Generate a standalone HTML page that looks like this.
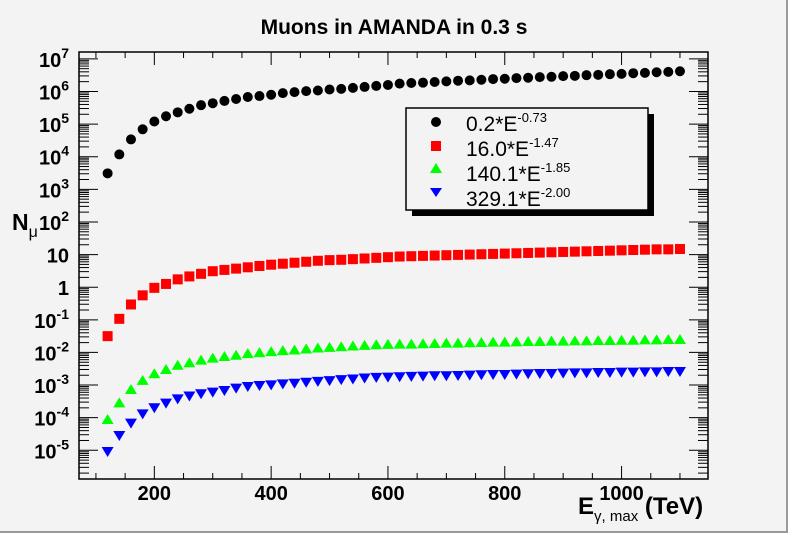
<!DOCTYPE html>
<html><head><meta charset="utf-8"><style>
html,body{margin:0;padding:0;background:#f3f3f3;}
svg{display:block;font-family:"Liberation Sans",sans-serif;}
</style></head><body>
<svg id="c" width="788" height="533" viewBox="0 0 788 533">
<rect x="0" y="0" width="788" height="533" fill="#f3f3f3"/>
<line x1="0" y1="532" x2="788" y2="532" stroke="#999" stroke-width="2"/>
<line x1="787" y1="0" x2="787" y2="533" stroke="#999" stroke-width="2"/>
<text x="394" y="34" text-anchor="middle" font-size="21" font-weight="bold">Muons in AMANDA in 0.3 s</text>
<g id="axes"></g>
<g id="marks"></g>
<g>
<rect x="412" y="114" width="242" height="102" fill="#000"/>
<rect x="406" y="108" width="242" height="102" fill="#f3f3f3" stroke="#000" stroke-width="1.5"/>
<circle cx="436" cy="122" r="5" fill="#000"/>
<rect x="431" y="141" width="10" height="10" fill="#f00"/>
<polygon points="436,163 442,173 430,173" fill="#0f0"/>
<polygon points="436,197 442,188 430,188" fill="#00f"/>
<text x="466" y="131" font-size="21">0.2*E<tspan dy="-9" font-size="13">-0.73</tspan></text>
<text x="466" y="156" font-size="21">16.0*E<tspan dy="-9" font-size="13">-1.47</tspan></text>
<text x="466" y="181" font-size="21">140.1*E<tspan dy="-9" font-size="13">-1.85</tspan></text>
<text x="466" y="206" font-size="21">329.1*E<tspan dy="-9" font-size="13">-2.00</tspan></text>
</g>
<text x="12" y="230" font-size="23" font-weight="bold">N<tspan dy="7" font-size="16" font-weight="normal">μ</tspan></text>
<text x="578" y="514" font-size="24" font-weight="bold">E<tspan dy="7" font-size="15" font-weight="normal">γ, max</tspan><tspan dy="-7"> (TeV)</tspan></text>
</svg>
<script>
const energies = [];
for (let e = 120; e <= 1100; e += 20) energies.push(e);
const logBlack = [3.49,4.07,4.53,4.84,5.08,5.24,5.36,5.47,5.58,5.64,5.71,5.77,5.83,5.86,5.90,5.95,5.98,6.01,6.03,6.06,6.08,6.11,6.14,6.17,6.20,6.24,6.26,6.27,6.29,6.31,6.33,6.34,6.36,6.38,6.39,6.41,6.42,6.44,6.45,6.47,6.48,6.50,6.51,6.53,6.54,6.56,6.57,6.59,6.60,6.62];
const logRed = [-1.50,-0.97,-0.53,-0.25,-0.02,0.10,0.24,0.33,0.41,0.49,0.53,0.57,0.61,0.65,0.69,0.72,0.75,0.78,0.81,0.83,0.84,0.86,0.88,0.90,0.92,0.94,0.95,0.96,0.97,0.98,0.99,1.00,1.01,1.02,1.03,1.04,1.05,1.06,1.07,1.08,1.09,1.10,1.11,1.12,1.13,1.14,1.15,1.16,1.16,1.17];
const logGreen = [-4.07,-3.56,-3.15,-2.87,-2.67,-2.54,-2.41,-2.33,-2.25,-2.19,-2.14,-2.10,-2.05,-2.02,-1.99,-1.96,-1.94,-1.91,-1.88,-1.86,-1.84,-1.82,-1.80,-1.78,-1.77,-1.76,-1.76,-1.75,-1.74,-1.73,-1.73,-1.72,-1.71,-1.70,-1.70,-1.69,-1.68,-1.68,-1.67,-1.67,-1.66,-1.66,-1.65,-1.65,-1.64,-1.64,-1.63,-1.63,-1.62,-1.62];
const logBlue = [-5.02,-4.53,-4.15,-3.87,-3.68,-3.54,-3.41,-3.32,-3.25,-3.20,-3.15,-3.08,-3.03,-3.00,-2.98,-2.95,-2.93,-2.90,-2.87,-2.85,-2.82,-2.80,-2.77,-2.75,-2.74,-2.73,-2.72,-2.71,-2.70,-2.70,-2.69,-2.68,-2.67,-2.66,-2.66,-2.65,-2.64,-2.63,-2.63,-2.62,-2.61,-2.61,-2.60,-2.60,-2.59,-2.59,-2.58,-2.58,-2.57,-2.57];
const xTickLabels = [200,400,600,800,1000];
const yDecades = [7,6,5,4,3,2,1,0,-1,-2,-3,-4,-5];

const NS = "http://www.w3.org/2000/svg";
const L = 79, R = 708, T = 52, B = 479;
const X0 = 71, X1 = 1148, Y0 = -5.88, Y1 = 7.21;
const xs = v => L + (v - X0) / (X1 - X0) * (R - L);
const ys = lg => B - (lg - Y0) / (Y1 - Y0) * (B - T);
const axes = document.getElementById('axes');
const marks = document.getElementById('marks');
function mk(tag, attrs, parent) {
  const el = document.createElementNS(NS, tag);
  for (const k in attrs) el.setAttribute(k, attrs[k]);
  parent.appendChild(el);
  return el;
}
const frame = mk('rect', {x:L, y:T, width:R-L, height:B-T, fill:'none', stroke:'#000', 'stroke-width':1.5}, axes);


for (let v = 100; v <= 1100; v += 50) {
  const x = xs(v); const major = v % 200 === 0; const h = major ? 13 : 6;
  mk('line', {x1:x, y1:B, x2:x, y2:B-h, stroke:'#000', 'stroke-width':1}, axes);
  mk('line', {x1:x, y1:T, x2:x, y2:T+h, stroke:'#000', 'stroke-width':1}, axes);
}
xTickLabels.forEach(v => {
  const t = mk('text', {x:xs(v), y:500, 'text-anchor':'middle', 'font-size':20, 'font-weight':'bold'}, axes);
  
  
  t.textContent = v;
});
for (let d = -6; d <= 7; d++) {
  for (let m = 1; m <= 9; m++) {
    const lg = d + Math.log10(m);
    if (lg < Y0 || lg > Y1) continue;
    const y = ys(lg); const w = m === 1 ? 19 : 10;
    mk('line', {x1:L, y1:y, x2:L+w, y2:y, stroke:'#000', 'stroke-width':1}, axes);
    mk('line', {x1:R, y1:y, x2:R-w, y2:y, stroke:'#000', 'stroke-width':1}, axes);
  }
}
yDecades.forEach(d => {
  const t = mk('text', {x:69, y:ys(d)+8, 'text-anchor':'end', 'font-size':20, 'font-weight':'bold'}, axes);
  
  
  if (d === 0) t.textContent = '1';
  else if (d === 1) t.textContent = '10';
  else {
    t.textContent = '10';
    const s = document.createElementNS(NS, 'tspan');
    s.setAttribute('dy', '-9'); s.setAttribute('font-size', '14');
    s.textContent = d; t.appendChild(s);
  }
});
energies.forEach((e, i) => {
  const x = xs(e);
  let y = ys(logBlack[i]);
  const c = mk('circle', {cx:x, cy:y, r:5, fill:'#000'}, marks);
  
  
  y = ys(logRed[i]);
  const s = mk('rect', {x:x-5, y:y-5, width:10, height:10, fill:'#f00'}, marks);
  
  
  y = ys(logGreen[i]);
  const g = mk('polygon', {points:`${x},${y-6} ${x+6},${y+4} ${x-6},${y+4}`, fill:'#0f0'}, marks);
  
  
  y = ys(logBlue[i]);
  const b = mk('polygon', {points:`${x},${y+6} ${x+6},${y-4} ${x-6},${y-4}`, fill:'#00f'}, marks);
  
  
});
</script>
</body></html>
